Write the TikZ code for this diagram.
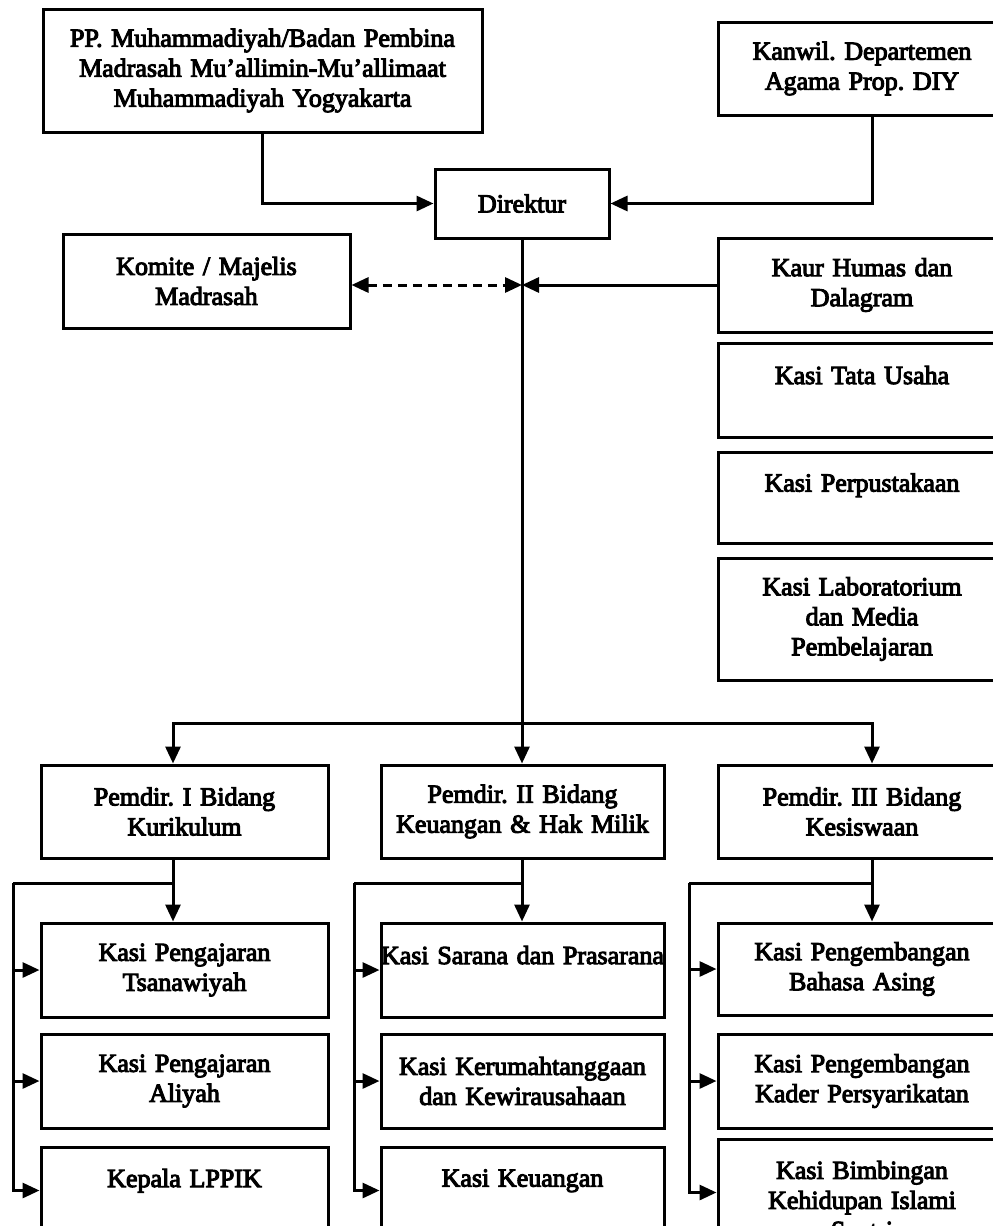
\documentclass[tikz,border=0pt]{standalone}
\usepackage{fontspec}
\newfontfamily\rf{Liberation Serif}[FakeBold=4]
\usetikzlibrary{arrows.meta}
\tikzset{
  box/.style={draw, line width=3pt, inner sep=0pt, align=center,
    font=\rf\frenchspacing\fontsize{26}{30}\selectfont},
  wd/.style={text width=#1, minimum width=#1},
  ht/.style={minimum height=#1},
  ln/.style={line width=3pt},
  arr/.style={line width=3pt, -{Triangle[length=17pt,width=15pt]}},
  darr/.style={line width=3pt, dash pattern=on 9pt off 6pt,
    {Triangle[length=17pt,width=15pt]}-{Triangle[length=17pt,width=15pt]}},
}
\begin{document}
\begin{tikzpicture}[x=1pt,y=-1pt]
\useasboundingbox (0,0) rectangle (993,1226);
\clip (0,0) rectangle (993,1226);

% top level
\node[box, wd=439pt, ht=123pt] (pp) at (262.5,70.5) {PP. Muhammadiyah/Badan Pembina\\Madrasah Mu’allimin-Mu’allimaat\\Muhammadiyah Yogyakarta};
\node[box, wd=288pt, ht=93pt] (kanwil) at (862,68.5) {Kanwil. Departemen\\Agama Prop. DIY};
\node[box, wd=174pt, ht=69pt] (dir) at (522,203.5) {Direktur};
\node[box, wd=287pt, ht=94pt] (komite) at (206.5,281) {Komite / Majelis\\Madrasah};
\node[box, wd=288pt, ht=94pt] (kaur) at (862,285) {Kaur Humas dan\\Dalagram};
\node[box, wd=288pt, ht=94pt] (tu) at (862,390) {Kasi Tata Usaha\\\mbox{}};
\node[box, wd=288pt, ht=91pt] (perp) at (862,497.5) {Kasi Perpustakaan\\\mbox{}};
\node[box, wd=288pt, ht=122pt] (lab) at (862,619) {Kasi Laboratorium\\dan Media\\Pembelajaran};

% pemdir
\node[box, wd=287pt, ht=93pt] (p1) at (184.5,811.5) {Pemdir. I Bidang\\Kurikulum};
\node[box, wd=283pt, ht=93pt] (p2) at (522.5,811.5) {Pemdir. II Bidang\\Keuangan \& Hak Milik};
\node[box, wd=288pt, ht=93pt] (p3) at (862,811.5) {Pemdir. III Bidang\\Kesiswaan};

% column 1
\node[box, wd=287pt, ht=94pt] (k11) at (184.5,970) {Kasi Pengajaran\\Tsanawiyah};
\node[box, wd=287pt, ht=94pt] (k12) at (184.5,1081) {Kasi Pengajaran\\Aliyah};
\node[box, wd=287pt, ht=122pt] (k13) at (184.5,1208) {Kepala LPPIK\\\mbox{}\\\mbox{}};
% column 2
\node[box, wd=283pt, ht=94pt] (k21) at (522.5,970) {Kasi Sarana dan Prasarana\\\mbox{}};
\node[box, wd=283pt, ht=94pt] (k22) at (522.5,1081) {Kasi Kerumahtanggaan\\dan Kewirausahaan};
\node[box, wd=283pt, ht=122pt] (k23) at (522.5,1208) {Kasi Keuangan\\\mbox{}\\\mbox{}};
% column 3
\node[box, wd=288pt, ht=92pt] (k31) at (862,969) {Kasi Pengembangan\\Bahasa Asing};
\node[box, wd=288pt, ht=94pt] (k32) at (862,1081) {Kasi Pengembangan\\Kader Persyarikatan};
\node[box, wd=288pt, ht=122pt] (k33) at (862,1200) {Kasi Bimbingan\\Kehidupan Islami\\Santri};

% coordinates
\coordinate (hub) at (522,723);
\coordinate (h1) at (173,723);
\coordinate (h3) at (872,723);
\coordinate (t1) at (13,883);
\coordinate (t2) at (354,883);
\coordinate (t3) at (689,883);

% top connectors
\draw[arr] (pp.south) |- (dir.west);
\draw[arr] ([xshift=10pt]kanwil.south) |- (dir.east);
\draw[arr] (dir.south) -- (dir.south |- p2.north);
\draw[arr] (hub) -- (h1) -- (h1 |- p1.north);
\draw[arr] (hub) -- (h3) -- (h3 |- p3.north);
\draw[darr] (komite.east |- kaur.west) -- (dir.south |- kaur.west);
\draw[arr] (kaur.west) -- (dir.south |- kaur.west);

% column 1 connectors
\draw[arr] (h1 |- p1.south) -- (h1 |- k11.north);
\draw[ln] (h1 |- t1) -- (t1);
\draw[arr] (t1) |- ([yshift=-45pt]k13.north west);
\draw[arr] (t1 |- k11.west) -- (k11.west);
\draw[arr] (t1 |- k12.west) -- (k12.west);

% column 2 connectors
\draw[arr] (dir.south |- p2.south) -- (dir.south |- k21.north);
\draw[ln] (dir.south |- t2) -- (t2);
\draw[arr] (t2) |- ([yshift=-45pt]k23.north west);
\draw[arr] (t2 |- k21.west) -- (k21.west);
\draw[arr] (t2 |- k22.west) -- (k22.west);

% column 3 connectors
\draw[arr] (h3 |- p3.south) -- (h3 |- k31.north);
\draw[ln] (h3 |- t3) -- (t3);
\draw[arr] (t3) |- ([yshift=-55pt]k33.north west);
\draw[arr] (t3 |- k31.west) -- (k31.west);
\draw[arr] (t3 |- k32.west) -- (k32.west);
\end{tikzpicture}
\end{document}
